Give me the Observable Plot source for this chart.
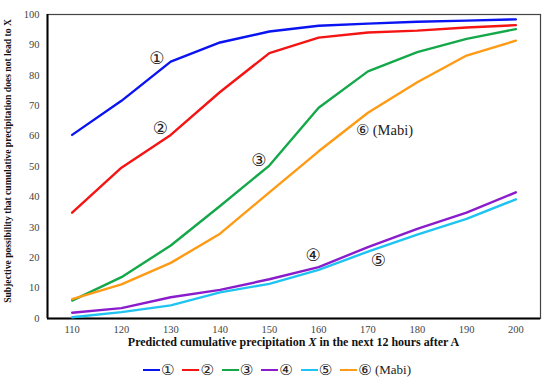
<!DOCTYPE html>
<html>
<head>
<meta charset="utf-8">
<script src="https://cdn.jsdelivr.net/npm/d3@7"></script>
<script src="https://cdn.jsdelivr.net/npm/@observablehq/plot@0.6"></script>
<style>
  body { margin: 0; background: #fff; }
  #chart { width: 550px; }
  .legend { display: flex; justify-content: center; align-items: center; gap: 8px;
    font-family: "Liberation Serif", serif; font-size: 13px; color: #222; height: 20px; margin-top: 8px; padding-left: 4px; }
  .legend .it { display: flex; align-items: center; white-space: pre; }
  .legend .sw { display: inline-block; width: 17px; height: 2.5px; margin-right: 1px; }
  .legend .c { font-family: "DejaVu Sans", sans-serif; font-size: 15px; }
</style>
</head>
<body>
<div id="chart"></div>
<script>
const xs = [110, 120, 130, 140, 150, 160, 170, 180, 190, 200];
const seriesNames = ["①", "②", "③", "④", "⑤", "⑥ (Mabi)"];
const colors = ["#0a14f0", "#f51414", "#14a84a", "#8a1ccc", "#1ec3f2", "#ff9a14"];
const s1 = [60.4, 71.6, 84.5, 90.8, 94.4, 96.3, 97.0, 97.6, 98.0, 98.4];
const s2 = [34.8, 49.6, 60.4, 74.5, 87.3, 92.4, 94.1, 94.7, 95.7, 96.5];
const s3 = [5.9, 13.6, 24.0, 37.0, 50.3, 69.3, 81.3, 87.6, 92.0, 95.2];
const s4 = [1.9, 3.4, 7.0, 9.4, 12.9, 16.9, 23.5, 29.5, 34.8, 41.5];
const s5 = [0.4, 2.1, 4.3, 8.6, 11.4, 16.0, 22.0, 27.6, 32.8, 39.2];
const s6 = [6.4, 11.2, 18.3, 27.9, 41.5, 55.0, 67.7, 77.7, 86.5, 91.4];
const allSeries = [s1, s2, s3, s4, s5, s6];
const yTicks = [0, 10, 20, 30, 40, 50, 60, 70, 80, 90, 100];
const labelNames = ["①", "②", "③", "④", "⑤", "⑥ (Mabi)"];
const labelX = [127.2, 127.9, 147.9, 158.9, 172.1, 167.6];
const labelY = [85.5, 62.5, 52.0, 20.7, 19.1, 61.8];

const data = [];
allSeries.forEach((vals, i) => vals.forEach((v, j) => data.push({x: xs[j], y: v, s: seriesNames[i]})));
const labels = labelNames.map((t, i) => ({t, x: labelX[i], y: labelY[i], anchor: i === 5 ? "start" : "middle"}));

const chart = Plot.plot({
  width: 550,
  height: 352,
  marginLeft: 47,
  marginRight: 10,
  marginTop: 14,
  marginBottom: 34,
  style: {fontFamily: "Liberation Serif", fontSize: "10.5px", color: "#444", background: "#fff"},
  x: {domain: [105, 205], ticks: xs, label: null, tickSize: 0, tickPadding: 7},
  y: {domain: [0, 100], ticks: yTicks, label: null, tickSize: 0, tickPadding: 8},
  color: {domain: seriesNames, range: colors},
  marks: [
    Plot.frame({stroke: "#444", strokeWidth: 1.2}),
    Plot.ruleX([105], {stroke: "#000", strokeWidth: 2}),
    Plot.ruleY([0], {stroke: "#000", strokeWidth: 2}),
    Plot.line(data, {x: "x", y: "y", z: "s", stroke: "s", strokeWidth: 2.4}),
    Plot.text(labels.filter(d => d.anchor === "middle"), {x: "x", y: "y", text: "t", fontSize: 17, fill: "#222", fontFamily: "DejaVu Sans"}),
    Plot.text(labels.filter(d => d.anchor === "start"), {x: "x", y: "y", text: "t", textAnchor: "start", fontSize: 14.5, fill: "#222", fontFamily: "Liberation Serif"})
  ]
});

const svg = d3.select(chart);
svg.selectAll("g[aria-label$='axis tick label'] text")
  .style("font-family", "'Liberation Serif', serif");
// x-axis title with italic X
const xt = svg.append("text")
  .attr("x", 293.5).attr("y", 346)
  .attr("text-anchor", "middle")
  .style("font-family", "'Liberation Serif', serif")
  .attr("font-weight", "bold").attr("font-size", 12).attr("fill", "#111");
xt.append("tspan").text("Predicted cumulative precipitation ");
xt.append("tspan").attr("font-style", "italic").text("X");
xt.append("tspan").text(" in the next 12 hours after A");
// y-axis title
svg.append("text")
  .attr("transform", "translate(11,161) rotate(-90)")
  .attr("text-anchor", "middle")
  .style("font-family", "'Liberation Serif', serif")
  .attr("font-weight", "bold").attr("font-size", 9.6).attr("fill", "#111")
  .text("Subjective possibility that cumulative precipitation does not lead to X");

document.getElementById("chart").appendChild(chart);

const legend = document.createElement("div");
legend.className = "legend";
seriesNames.forEach((n, i) => {
  const it = document.createElement("span");
  it.className = "it";
  const sw = document.createElement("span");
  sw.className = "sw"; sw.style.background = colors[i];
  it.appendChild(sw);
  const c = document.createElement("span");
  c.className = "c"; c.textContent = n.slice(0, 1);
  it.appendChild(c);
  if (n.length > 1) {
    const r = document.createElement("span");
    r.textContent = n.slice(1);
    it.appendChild(r);
  }
  legend.appendChild(it);
});
document.getElementById("chart").appendChild(legend);
</script>
</body>
</html>
